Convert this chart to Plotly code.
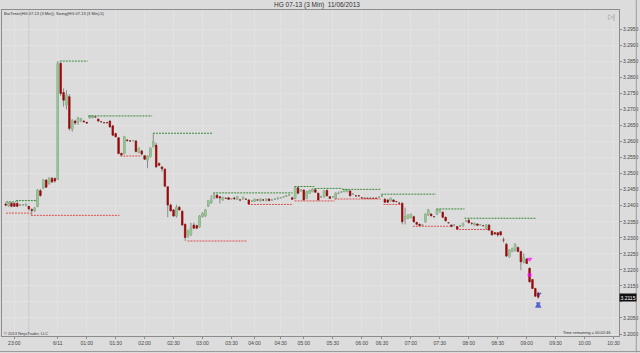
import plotly.graph_objects as go

# ---------------- data ----------------
bar_index = list(range(185))

opens = [3.2405, 3.2400, 3.2408, 3.2407, 3.2407, 3.2402, 3.2403, 3.2402, 3.2398, 3.2388,
         3.2385, 3.2398, 3.2447, 3.2455, 3.2480, 3.2470, 3.2486, 3.2485, 3.2483, 3.2844,
         3.2753, 3.2714, 3.2740, 3.2639, 3.2664, 3.2662, 3.2666, 3.2664, 3.2660, 3.2674,
         3.2675, 3.2677, 3.2670, 3.2662, 3.2659, 3.2659, 3.2664, 3.2649, 3.2625, 3.2612,
         3.2563, 3.2563, 3.2605, 3.2602, 3.2603, 3.2602, 3.2567, 3.2571, 3.2556, 3.2542,
         3.2553, 3.2584, 3.2589, 3.2532, 3.2521, 3.2514, 3.2459, 3.2402, 3.2387, 3.2368,
         3.2395, 3.2383, 3.2342, 3.2309, 3.2309, 3.2340, 3.2338, 3.2334, 3.2366, 3.2368,
         3.2399, 3.2409, 3.2423, 3.2433, 3.2428, 3.2418, 3.2423, 3.2425, 3.2422, 3.2424,
         3.2420, 3.2418, 3.2421, 3.2420, 3.2418, 3.2415, 3.2414, 3.2418, 3.2415, 3.2418,
         3.2416, 3.2421, 3.2418, 3.2421, 3.2422, 3.2425, 3.2428, 3.2430, 3.2433, 3.2425,
         3.2423, 3.2456, 3.2446, 3.2449, 3.2423, 3.2439, 3.2444, 3.2450, 3.2439, 3.2428,
         3.2428, 3.2448, 3.2428, 3.2428, 3.2423, 3.2439, 3.2443, 3.2444, 3.2444, 3.2446,
         3.2436, 3.2431, 3.2431, 3.2425, 3.2423, 3.2423, 3.2423, 3.2423, 3.2423, 3.2426,
         3.2430, 3.2420, 3.2418, 3.2415, 3.2418, 3.2413, 3.2408, 3.2408, 3.2358, 3.2361,
         3.2363, 3.2366, 3.2348, 3.2342, 3.2340, 3.2350, 3.2371, 3.2374, 3.2366, 3.2374,
         3.2381, 3.2380, 3.2364, 3.2347, 3.2340, 3.2340, 3.2335, 3.2337, 3.2337, 3.2353,
         3.2355, 3.2345, 3.2340, 3.2343, 3.2341, 3.2338, 3.2330, 3.2340, 3.2321, 3.2316,
         3.2316, 3.2319, 3.2293, 3.2280, 3.2241, 3.2257, 3.2262, 3.2270, 3.2257, 3.2225,
         3.2234, 3.2205, 3.2170, 3.2142, 3.2128]

highs = [3.2410, 3.2412, 3.2411, 3.2410, 3.2416, 3.2405, 3.2405, 3.2408, 3.2400, 3.2392,
         3.2396, 3.2452, 3.2452, 3.2483, 3.2482, 3.2488, 3.2489, 3.2488, 3.2851, 3.2848,
         3.2766, 3.2760, 3.2748, 3.2670, 3.2668, 3.2677, 3.2674, 3.2667, 3.2661, 3.2682,
         3.2682, 3.2679, 3.2672, 3.2664, 3.2661, 3.2661, 3.2666, 3.2651, 3.2628, 3.2614,
         3.2566, 3.2618, 3.2608, 3.2604, 3.2605, 3.2605, 3.2582, 3.2574, 3.2558, 3.2557,
         3.2582, 3.2626, 3.2596, 3.2535, 3.2524, 3.2517, 3.2461, 3.2407, 3.2389, 3.2403,
         3.2400, 3.2386, 3.2345, 3.2325, 3.2347, 3.2347, 3.2341, 3.2371, 3.2380, 3.2390,
         3.2418, 3.2433, 3.2440, 3.2436, 3.2430, 3.2428, 3.2425, 3.2427, 3.2424, 3.2428,
         3.2430, 3.2420, 3.2428, 3.2422, 3.2420, 3.2417, 3.2422, 3.2420, 3.2423, 3.2420,
         3.2423, 3.2423, 3.2420, 3.2423, 3.2428, 3.2427, 3.2430, 3.2432, 3.2436, 3.2428,
         3.2460, 3.2458, 3.2451, 3.2451, 3.2447, 3.2450, 3.2454, 3.2452, 3.2441, 3.2431,
         3.2449, 3.2450, 3.2430, 3.2430, 3.2442, 3.2444, 3.2446, 3.2451, 3.2451, 3.2448,
         3.2438, 3.2433, 3.2433, 3.2427, 3.2425, 3.2425, 3.2425, 3.2425, 3.2426, 3.2429,
         3.2436, 3.2424, 3.2420, 3.2425, 3.2420, 3.2415, 3.2410, 3.2410, 3.2394, 3.2373,
         3.2376, 3.2369, 3.2350, 3.2344, 3.2343, 3.2376, 3.2390, 3.2377, 3.2368, 3.2390,
         3.2389, 3.2382, 3.2366, 3.2349, 3.2342, 3.2342, 3.2337, 3.2340, 3.2347, 3.2356,
         3.2361, 3.2348, 3.2347, 3.2345, 3.2343, 3.2340, 3.2342, 3.2342, 3.2323, 3.2318,
         3.2318, 3.2321, 3.2301, 3.2285, 3.2264, 3.2269, 3.2283, 3.2272, 3.2260, 3.2251,
         3.2237, 3.2208, 3.2172, 3.2144, 3.2132]

lows = [3.2398, 3.2396, 3.2395, 3.2396, 3.2396, 3.2400, 3.2401, 3.2398, 3.2385, 3.2370,
        3.2380, 3.2395, 3.2428, 3.2452, 3.2455, 3.2465, 3.2472, 3.2472, 3.2480, 3.2742,
        3.2709, 3.2700, 3.2634, 3.2631, 3.2652, 3.2652, 3.2660, 3.2659, 3.2655, 3.2672,
        3.2672, 3.2675, 3.2662, 3.2660, 3.2657, 3.2657, 3.2643, 3.2617, 3.2612, 3.2560,
        3.2555, 3.2560, 3.2601, 3.2600, 3.2601, 3.2566, 3.2564, 3.2556, 3.2543, 3.2517,
        3.2550, 3.2582, 3.2518, 3.2524, 3.2506, 3.2458, 3.2364, 3.2382, 3.2365, 3.2363,
        3.2385, 3.2337, 3.2290, 3.2299, 3.2305, 3.2328, 3.2328, 3.2331, 3.2363, 3.2365,
        3.2396, 3.2406, 3.2420, 3.2423, 3.2407, 3.2416, 3.2421, 3.2418, 3.2420, 3.2418,
        3.2418, 3.2416, 3.2419, 3.2418, 3.2404, 3.2413, 3.2412, 3.2416, 3.2413, 3.2416,
        3.2414, 3.2414, 3.2416, 3.2419, 3.2420, 3.2423, 3.2426, 3.2428, 3.2431, 3.2418,
        3.2420, 3.2436, 3.2444, 3.2415, 3.2420, 3.2437, 3.2442, 3.2440, 3.2416, 3.2425,
        3.2425, 3.2429, 3.2421, 3.2426, 3.2420, 3.2436, 3.2440, 3.2442, 3.2442, 3.2429,
        3.2434, 3.2429, 3.2429, 3.2421, 3.2421, 3.2421, 3.2421, 3.2421, 3.2421, 3.2424,
        3.2428, 3.2409, 3.2409, 3.2413, 3.2411, 3.2411, 3.2404, 3.2342, 3.2342, 3.2358,
        3.2360, 3.2348, 3.2340, 3.2336, 3.2338, 3.2347, 3.2368, 3.2366, 3.2364, 3.2371,
        3.2379, 3.2362, 3.2351, 3.2345, 3.2333, 3.2335, 3.2326, 3.2334, 3.2335, 3.2351,
        3.2345, 3.2340, 3.2338, 3.2337, 3.2339, 3.2336, 3.2328, 3.2322, 3.2307, 3.2310,
        3.2303, 3.2307, 3.2285, 3.2240, 3.2238, 3.2255, 3.2257, 3.2255, 3.2199, 3.2220,
        3.2218, 3.2160, 3.2140, 3.2116, 3.2110]

closes = [3.2402, 3.2408, 3.2398, 3.2398, 3.2398, 3.2402, 3.2403, 3.2404, 3.2390, 3.2385,
          3.2393, 3.2449, 3.2432, 3.2480, 3.2458, 3.2486, 3.2474, 3.2477, 3.2844, 3.2750,
          3.2729, 3.2744, 3.2641, 3.2665, 3.2658, 3.2674, 3.2670, 3.2662, 3.2658, 3.2681,
          3.2680, 3.2677, 3.2664, 3.2662, 3.2659, 3.2659, 3.2646, 3.2620, 3.2615, 3.2563,
          3.2558, 3.2615, 3.2603, 3.2602, 3.2603, 3.2569, 3.2579, 3.2561, 3.2545, 3.2555,
          3.2579, 3.2600, 3.2521, 3.2526, 3.2515, 3.2461, 3.2402, 3.2384, 3.2368, 3.2395,
          3.2387, 3.2340, 3.2301, 3.2322, 3.2330, 3.2330, 3.2330, 3.2368, 3.2376, 3.2387,
          3.2416, 3.2418, 3.2433, 3.2425, 3.2425, 3.2426, 3.2423, 3.2420, 3.2422, 3.2422,
          3.2428, 3.2418, 3.2426, 3.2420, 3.2405, 3.2415, 3.2420, 3.2418, 3.2421, 3.2418,
          3.2421, 3.2416, 3.2418, 3.2421, 3.2422, 3.2425, 3.2428, 3.2430, 3.2433, 3.2420,
          3.2456, 3.2439, 3.2449, 3.2418, 3.2444, 3.2448, 3.2452, 3.2442, 3.2418, 3.2428,
          3.2446, 3.2431, 3.2423, 3.2428, 3.2439, 3.2439, 3.2443, 3.2451, 3.2450, 3.2431,
          3.2436, 3.2431, 3.2431, 3.2425, 3.2423, 3.2423, 3.2423, 3.2423, 3.2423, 3.2426,
          3.2430, 3.2411, 3.2411, 3.2423, 3.2413, 3.2413, 3.2408, 3.2350, 3.2366, 3.2371,
          3.2373, 3.2350, 3.2342, 3.2338, 3.2340, 3.2374, 3.2387, 3.2369, 3.2366, 3.2387,
          3.2387, 3.2364, 3.2353, 3.2347, 3.2335, 3.2340, 3.2326, 3.2337, 3.2345, 3.2353,
          3.2347, 3.2345, 3.2345, 3.2339, 3.2341, 3.2338, 3.2340, 3.2324, 3.2309, 3.2312,
          3.2309, 3.2309, 3.2293, 3.2243, 3.2262, 3.2267, 3.2280, 3.2257, 3.2225, 3.2239,
          3.2220, 3.2163, 3.2142, 3.2118, 3.2115]

# swing high (green dashed) segments: start bar, end bar, price
swing_high_start = [0.1, 3.5, 18.7, 28.6, 50.9, 71.7, 99.8, 106.7, 116.3, 129.8, 148.8, 158.5]
swing_high_end = [3.5, 10.8, 28.3, 50.6, 71.5, 99.1, 106.6, 116.3, 129.6, 148.6, 158.5, 183.3]
swing_high_price = [3.2412, 3.2416, 3.2851, 3.2680, 3.2626, 3.2440, 3.2460, 3.2454, 3.2451,
                    3.2436, 3.2390, 3.2361]

# swing low (red dashed) segments
swing_low_start = [0.1, 8.7, 39.6, 62.8, 83.7, 99.8, 113.6, 130.5, 140.7, 155.6]
swing_low_end = [8.7, 39.3, 46.5, 83.4, 99.1, 113.6, 129.6, 136.5, 153.4, 166.9]
swing_low_price = [3.2377, 3.2370, 3.2555, 3.2290, 3.2404, 3.2415, 3.2421, 3.2404, 3.2336, 3.2326]

# signal markers
magenta_x = [181, 181]
magenta_y = [3.2233, 3.2184]
magenta_sym = ["triangle-down", "square"]
blue_x = [184, 184.4]
blue_y = [3.2097, 3.2124]
blue_sym = ["arrow-bar-up", "line-ne"]

# axis ticks
x_tick_bars = [3, 18, 28, 38, 48, 58, 68, 78, 86, 95, 103, 113, 123, 130, 140, 150, 160, 170,
               180, 190, 200, 210]
x_tick_labels = ["23:00", "6/11", "01:00", "01:30", "02:00", "02:30", "03:00", "03:30", "04:00",
                 "04:30", "05:00", "05:30", "06:00", "06:30", "07:00", "07:30", "08:00", "08:30",
                 "09:00", "09:30", "10:00", "10:30"]
y_tick_values = [3.2000, 3.2050, 3.2100, 3.2150, 3.2200, 3.2250, 3.2300, 3.2350, 3.2400, 3.2450,
                 3.2500, 3.2550, 3.2600, 3.2650, 3.2700, 3.2750, 3.2800, 3.2850, 3.2900, 3.2950]
last_price = 3.2115
session_break_bar = 8.0

# ---------------- figure ----------------
BG = "#dcdcdc"
fig = go.Figure()

# layer 1: gray wicks and outlines
fig.add_trace(go.Candlestick(
    x=bar_index, open=opens, high=highs, low=lows, close=closes,
    increasing=dict(fillcolor="#9dd59d", line=dict(color="#8a8a8a", width=1)),
    decreasing=dict(fillcolor="#b00000", line=dict(color="#8a8a8a", width=1)),
    whiskerwidth=0, showlegend=False, hoverinfo="skip"))
# layer 2: coloured bodies on top
fig.add_trace(go.Candlestick(
    x=bar_index, open=opens, high=opens, low=closes, close=closes,
    increasing=dict(fillcolor="#9dd59d", line=dict(color="#8cc88c", width=0.4)),
    decreasing=dict(fillcolor="#b00000", line=dict(color="#a00000", width=0.4)),
    whiskerwidth=0, showlegend=False, hoverinfo="skip"))


def seg_xy(starts, ends, prices):
    xs, ys = [], []
    for s, e, p in zip(starts, ends, prices):
        xs += [s, e, None]
        ys += [p, p, None]
    return xs, ys


hx, hy = seg_xy(swing_high_start, swing_high_end, swing_high_price)
lx, ly = seg_xy(swing_low_start, swing_low_end, swing_low_price)
fig.add_trace(go.Scatter(x=hx, y=hy, mode="lines", showlegend=False, hoverinfo="skip",
                         line=dict(color="#3a8a3a", width=1, dash="2px,1px")))
fig.add_trace(go.Scatter(x=lx, y=ly, mode="lines", showlegend=False, hoverinfo="skip",
                         line=dict(color="#e05050", width=1, dash="2px,1px")))

fig.add_trace(go.Scatter(x=magenta_x, y=magenta_y, mode="markers", showlegend=False,
                         hoverinfo="skip",
                         marker=dict(symbol=magenta_sym, size=[4, 3], color="#ff00ff",
                                     line=dict(color="#ff00ff", width=1))))
fig.add_trace(go.Scatter(x=blue_x, y=blue_y, mode="markers", showlegend=False,
                         hoverinfo="skip",
                         marker=dict(symbol=blue_sym, size=[4, 3], color="#1f2fd0",
                                     line=dict(color="#1f2fd0", width=1.5))))

fig.add_shape(type="line", xref="x", yref="paper", x0=session_break_bar, x1=session_break_bar,
              y0=0, y1=1, line=dict(color="#c8c8c8", width=1), layer="below")

# outer frame lines
fig.add_shape(type="line", xref="paper", yref="paper", x0=-0.01, x1=1.04, y0=-0.0475, y1=-0.0475,
              line=dict(color="#9a9a9a", width=1))
fig.add_shape(type="line", xref="paper", yref="paper", x0=1.028, x1=1.028, y0=-0.05, y1=1.03,
              line=dict(color="#9a9a9a", width=1))

axis_font = dict(family="Liberation Sans, Arial, sans-serif", size=5, color="#444444")
y_tick_text = ["" if v == last_price - 0.0015 else "%.4f" % v for v in y_tick_values]
y_tick_text[2] = ""  # 3.2100 sits behind the last-price marker

fig.update_layout(
    width=640, height=353,
    margin=dict(l=1, r=19, t=10, b=17, pad=0),
    paper_bgcolor=BG, plot_bgcolor=BG,
    showlegend=False,
    font=dict(family="Liberation Sans, Arial, sans-serif", size=5, color="#444444"),
    xaxis=dict(range=[-1.27, 211.9], tickmode="array", tickvals=x_tick_bars,
               ticktext=x_tick_labels, tickfont=axis_font, showgrid=True,
               gridcolor="#e2e2e2", gridwidth=1, zeroline=False, showline=True,
               linecolor="#8c8c8c", linewidth=1, mirror=True, ticks="outside", ticklen=2,
               tickcolor="#8c8c8c", rangeslider=dict(visible=False), fixedrange=True),
    yaxis=dict(side="right", range=[3.19938, 3.30103], tickmode="array",
               tickvals=y_tick_values, ticktext=y_tick_text, tickfont=axis_font,
               showgrid=True, gridcolor="#e2e2e2", gridwidth=1, zeroline=False, showline=True,
               linecolor="#8c8c8c", linewidth=1, mirror=True, ticks="outside", ticklen=2,
               tickcolor="#8c8c8c", fixedrange=True),
)

fig.add_annotation(text="HG 07-13 (3 Min)  11/06/2013", xref="paper", yref="paper",
                   x=0.511, y=1.0163, xanchor="center", yanchor="middle", showarrow=False,
                   font=dict(family="Liberation Sans, Arial, sans-serif", size=6.5,
                             color="#333333"))
fig.add_annotation(text="BarTimer(HG 07-13 (3 Min)), Swing(HG 07-13 (3 Min),5)", xref="paper",
                   yref="paper", x=0.0, y=0.990, xanchor="left", yanchor="middle",
                   showarrow=False, font=dict(size=4, color="#333333"))
fig.add_annotation(text="© 2013 NinjaTrader, LLC", xref="paper", yref="paper", x=0.0,
                   y=0.009, xanchor="left", yanchor="middle", showarrow=False,
                   font=dict(size=4, color="#333333"))
fig.add_annotation(text="Time remaining = 00:02:46", xref="paper", yref="paper", x=0.990,
                   y=0.012, xanchor="right", yanchor="middle", showarrow=False,
                   font=dict(size=4, color="#333333"))
fig.add_annotation(text="▷|", xref="paper", yref="paper", x=0.988, y=0.978, xanchor="center",
                   yanchor="middle", showarrow=False, font=dict(size=7, color="#888888"))
fig.add_annotation(text="%.4f" % last_price, xref="paper", yref="y", x=1.0, y=last_price,
                   xanchor="left", yanchor="middle", showarrow=False, bgcolor="#111111",
                   borderpad=0.5, font=dict(size=5, color="#ffffff"))

fig.write_html("out.html")
